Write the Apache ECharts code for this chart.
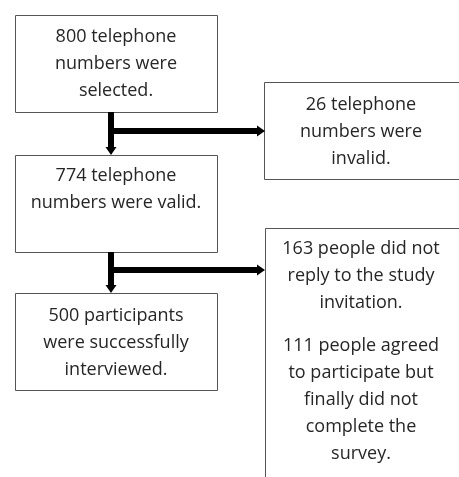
<!DOCTYPE html>
<html>
<head>
<meta charset="utf-8">
<script src="https://cdn.jsdelivr.net/npm/echarts@6/dist/echarts.min.js"></script>
<style>html,body{margin:0;padding:0;background:#fff}#c{width:459px;height:477px}</style>
</head>
<body>
<div id="c"></div>
<script>
// Text content of each box (one entry per line, '' = paragraph gap)
var box1Lines = ['800 telephone', 'numbers were', 'selected.'];
var box2Lines = ['26 telephone', 'numbers were', 'invalid.'];
var box3Lines = ['774 telephone', 'numbers were valid.'];
var box4Lines = ['500 participants', 'were successfully', 'interviewed.'];
var box5Lines = ['163 people did not', 'reply to the study', 'invitation.', '', '111 people agreed', 'to participate but', 'finally did not', 'complete the', 'survey.'];

// Layout (pixels)
var layout = {
  b1: {x: 15, y: 15, w: 202, h: 97, tx: 116, ty: 37},
  b2: {x: 264, y: 82, w: 200, h: 97, tx: 361, ty: 105},
  b3: {x: 15, y: 155, w: 202, h: 97, tx: 116, ty: 176},
  b4: {x: 15, y: 293, w: 202, h: 97, tx: 116, ty: 316},
  b5: {x: 265, y: 228, w: 200, h: 300, tx: 361, ty: 249}
};
var LH = 27, GAP = 16;

var chart = echarts.init(document.getElementById('c'), null, {renderer: 'canvas'});
var g = [];
function box(b, lines) {
  g.push({type: 'rect', shape: {x: b.x + 0.5, y: b.y + 0.5, width: b.w, height: b.h},
    style: {fill: '#fff', stroke: '#555', lineWidth: 1}});
  var y = b.ty;
  lines.forEach(function (t) {
    if (t === '') { y += GAP; return; }
    g.push({type: 'text', x: b.tx, y: y, style: {text: t, fill: '#262626',
      font: '18px "Open Sans"', textAlign: 'center', textVerticalAlign: 'middle'}});
    y += LH;
  });
}
box(layout.b1, box1Lines);
box(layout.b2, box2Lines);
box(layout.b3, box3Lines);
box(layout.b4, box4Lines);
box(layout.b5, box5Lines);

function arrowDown(x, y1, y2) {
  g.push({type: 'line', shape: {x1: x, y1: y1, x2: x, y2: y2 - 7}, style: {stroke: '#000', lineWidth: 6}});
  g.push({type: 'polygon', shape: {points: [[x - 5.5, y2 - 8], [x + 5.5, y2 - 8], [x, y2]]}, style: {fill: '#000'}});
}
function arrowRight(x1, x2, y) {
  g.push({type: 'line', shape: {x1: x1 - 3, y1: y, x2: x2 - 7, y2: y}, style: {stroke: '#000', lineWidth: 6}});
  g.push({type: 'polygon', shape: {points: [[x2 - 8, y - 5.5], [x2 - 8, y + 5.5], [x2, y]]}, style: {fill: '#000'}});
}
var cx = 111;
arrowDown(cx, 112, 155);
arrowRight(cx, 265, 131);
arrowDown(cx, 252, 293);
arrowRight(cx, 265, 270);

chart.setOption({animation: false, graphic: {elements: g}});
</script>
</body>
</html>
